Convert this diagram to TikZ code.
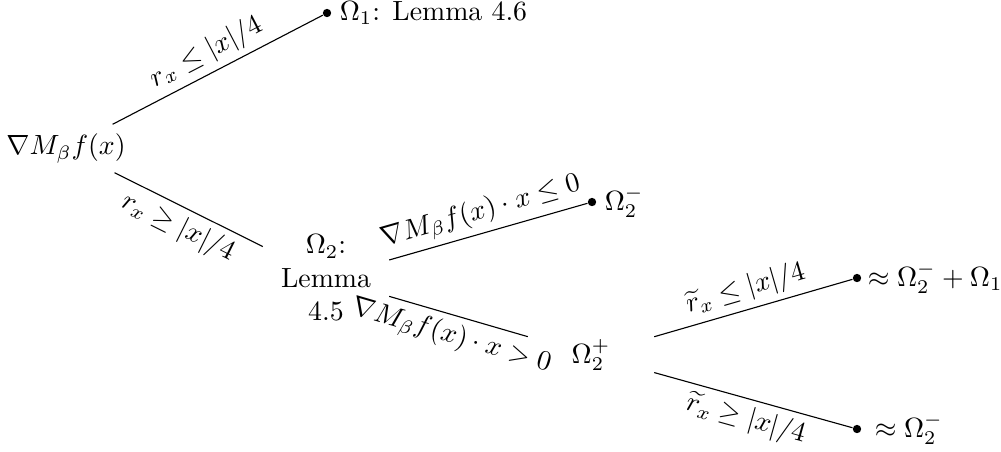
\documentclass[tikz,border=0pt]{standalone}
\usepackage{amsmath,amssymb}
\begin{document}
\begin{tikzpicture}[x=0.3597pt,y=-0.3597pt,
  tnode/.style={text width=1.35cm, align=center, inner sep=3.33pt},
  leafdot/.style={circle, fill=black, inner sep=0pt, minimum size=3pt},
  leaflbl/.style={anchor=west, inner sep=3.33pt},
  lbl/.style={pos=0.49, sloped, inner sep=2.2pt},
  branch/.style={line width=0.4pt}]
\useasboundingbox (0,0) rectangle (1001,451);
% nodes
\node (root) at (66,148.5) {$\nabla M_\beta f(x)$};
\node[leafdot] (d1) at (327,13) {};
\node[leaflbl] (l1) at (330,13) {$\Omega_1$: Lemma 4.6};
\node[tnode] (o2) at (326,278) {$\Omega_2$:\\ Lemma\\ 4.5};
\node[leafdot] (d2) at (592,202) {};
\node[leaflbl] (l2) at (595,202) {$\Omega_2^-$};
\node[tnode] (o2p) at (591,355) {$\Omega_2^+$};
\node[leafdot] (d3) at (857,278) {};
\node[leaflbl] (l3) at (858,278) {$\approx \Omega_2^- + \Omega_1$};
\node[leafdot] (d4) at (857,429) {};
\node[leaflbl] (l4) at (865,429) {$\approx \Omega_2^-$};
% branches
\draw[branch] (root) -- node[lbl, above] {$r_x \leq |x|/4$} (d1);
\draw[branch] (root) -- node[lbl, below] {$r_x \geq |x|/4$} (o2);
\draw[branch] (o2) -- node[lbl, above] {$\nabla M_\beta f(x)\cdot x \leq 0$} (d2);
\draw[branch] (o2) -- node[lbl, below] {$\nabla M_\beta f(x)\cdot x > 0$} (o2p);
\draw[branch] (o2p) -- node[lbl, above] {$\widetilde{r}_x \leq |x|/4$} (d3);
\draw[branch] (o2p) -- node[lbl, below] {$\widetilde{r}_x \geq |x|/4$} (d4);
\end{tikzpicture}
\end{document}
